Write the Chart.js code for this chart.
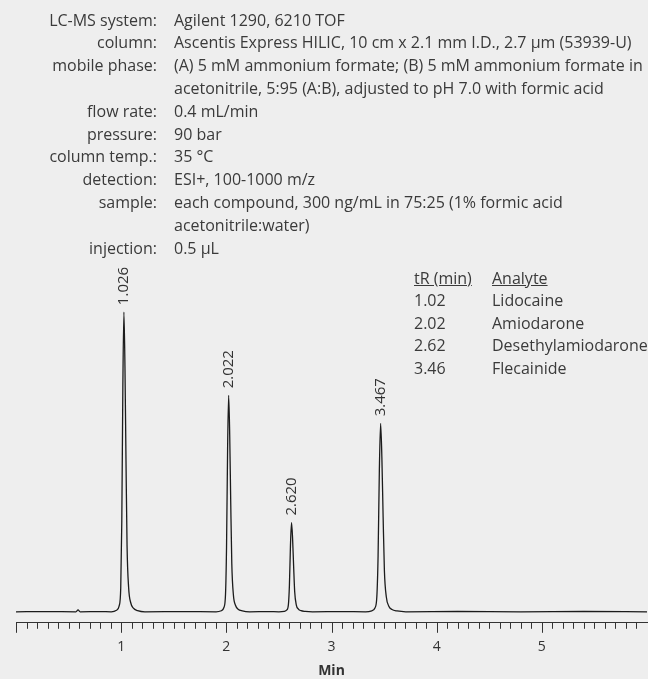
<!DOCTYPE html>
<html>
<head>
<meta charset="utf-8">
<script src="https://cdn.jsdelivr.net/npm/chart.js@4.4.1/dist/chart.umd.min.js"></script>
<style>
  body { margin: 0; background: #eeeeee; }
  #wrap { position: relative; width: 648px; height: 679px; font-family: "Open Sans", sans-serif; color: #3a3a3a; }
  #chart { position: absolute; left: 0; top: 0; }
  .line { position: absolute; white-space: nowrap; font-size: 16px; line-height: 22.8px; }
  .lbl { text-align: right; width: 157px; left: 0; }
  .val { left: 174px; }
  .u { text-decoration: underline; }
</style>
</head>
<body>
<div id="wrap">
  <canvas id="chart" width="648" height="679"></canvas>
</div>
<script>
// Method conditions printed above the chromatogram
const conditionLabels = ['LC-MS system:', 'column:', 'mobile phase:', '', 'flow rate:', 'pressure:', 'column temp.:', 'detection:', 'sample:', '', 'injection:'];
const conditionValues = [
    'Agilent 1290, 6210 TOF',
    'Ascentis Express HILIC, 10 cm x 2.1 mm I.D., 2.7 µm (53939-U)',
    '(A) 5 mM ammonium formate; (B) 5 mM ammonium formate in',
    'acetonitrile, 5:95 (A:B), adjusted to pH 7.0 with formic acid',
    '0.4 mL/min',
    '90 bar',
    '35 °C',
    'ESI+, 100-1000 m/z',
    'each compound, 300 ng/mL in 75:25 (1% formic acid',
    'acetonitrile:water)',
    '0.5 µL'
];

// Peak table
const tableRetention = ['1.02', '2.02', '2.62', '3.46'];
const tableAnalytes = ['Lidocaine', 'Amiodarone', 'Desethylamiodarone', 'Flecainide'];

// Peak apex labels
const peakTimes = [1.026, 2.022, 2.620, 3.467];
const peakHeights = [299, 216, 89, 188];
const peakLabels = ['1.026', '2.022', '2.620', '3.467'];

// Chromatogram trace (min, detector response)
const traceTime = [
    0.00, 0.30, 0.57, 0.59, 0.61, 0.80,
    0.906, 0.956, 0.981, 0.996, 1.006, 1.016, 1.026, 1.036, 1.046, 1.056, 1.071, 1.091, 1.116, 1.156, 1.226,
    1.60,
    1.902, 1.952, 1.977, 1.992, 2.002, 2.012, 2.022, 2.032, 2.042, 2.052, 2.067, 2.087, 2.112, 2.152, 2.222,
    2.40,
    2.50, 2.55, 2.575, 2.59, 2.60, 2.61, 2.62, 2.63, 2.64, 2.65, 2.665, 2.685, 2.71, 2.75, 2.82,
    3.10,
    3.323, 3.383, 3.413, 3.431, 3.443, 3.455, 3.467, 3.479, 3.491, 3.503, 3.521, 3.545, 3.575, 3.623, 3.707,
    4.20, 4.80, 5.40, 6.00
];
const traceSignal = [
    0, 0.2, 0, 1.8, 0, 0.2,
    0, 1.5, 6, 24, 90, 224, 299, 245, 150, 66, 24, 9, 3.6, 1.2, 0,
    0.2,
    0, 1, 4.3, 17, 65, 162, 216, 177, 108, 48, 17, 6.5, 2.6, 0.9, 0,
    0.2,
    0, 0.4, 1.8, 7, 27, 67, 89, 73, 45, 20, 7, 2.7, 1.1, 0.4, 0,
    0.2,
    0, 0.9, 3.8, 15, 56, 141, 188, 154, 94, 41, 15, 5.6, 2.3, 0.8, 0,
    0.3, 0, 0.3, 0
];

// HTML text blocks
const wrap = document.getElementById('wrap');
conditionLabels.forEach((label, i) => {
    const top = 8.6 + i * 22.8;
    const l = document.createElement('div');
    l.className = 'line lbl';
    l.style.top = top + 'px';
    l.textContent = label;
    wrap.appendChild(l);
    const v = document.createElement('div');
    v.className = 'line val';
    v.style.top = top + 'px';
    v.textContent = conditionValues[i];
    wrap.appendChild(v);
});

function addCell(text, left, top, underline) {
    const d = document.createElement('div');
    d.className = 'line' + (underline ? ' u' : '');
    d.style.left = left + 'px';
    d.style.top = top + 'px';
    d.textContent = text;
    wrap.appendChild(d);
}
addCell('tR (min)', 414, 266.7, true);
addCell('Analyte', 492, 266.7, true);
tableRetention.forEach((rt, i) => {
    addCell(rt, 414, 289.2 + i * 22.5, false);
    addCell(tableAnalytes[i], 492, 289.2 + i * 22.5, false);
});

// Plugin: minor/major ticks under the axis and rotated apex labels
const chromPlugin = {
    id: 'chrom',
    afterDraw(chart) {
        const ctx = chart.ctx;
        const xs = chart.scales.x;
        const ys = chart.scales.y;
        const axisY = chart.chartArea.bottom;

        ctx.save();
        ctx.strokeStyle = '#333';
        ctx.lineWidth = 1;
        xs.ticks.forEach(t => {
            if (t.value > 5.95) return;
            const major = Math.abs(t.value - Math.round(t.value)) < 1e-6;
            const x = Math.round(xs.getPixelForValue(t.value)) + 0.5;
            ctx.beginPath();
            ctx.moveTo(x, axisY);
            ctx.lineTo(x, axisY + (major ? 10 : 6));
            ctx.stroke();
        });

        ctx.fillStyle = '#333';
        ctx.font = '15px "Open Sans"';
        ctx.textAlign = 'left';
        ctx.textBaseline = 'middle';
        peakTimes.forEach((t, i) => {
            const x = xs.getPixelForValue(t);
            const y = ys.getPixelForValue(peakHeights[i]) - 7;
            ctx.save();
            ctx.translate(x, y);
            ctx.rotate(-Math.PI / 2);
            ctx.fillText(peakLabels[i], 0, 0);
            ctx.restore();
        });
        ctx.restore();
    }
};

const chart = new Chart(document.getElementById('chart').getContext('2d'), {
    type: 'line',
    data: {
        datasets: [{
            data: traceTime.map((t, i) => ({ x: t, y: traceSignal[i] })),
            borderColor: '#1b1b1b',
            borderWidth: 1.3,
            pointRadius: 0,
            fill: false,
            cubicInterpolationMode: 'monotone'
        }]
    },
    options: {
        responsive: false,
        animation: false,
        devicePixelRatio: 1,
        layout: { padding: { left: 16, right: 1, top: 250, bottom: 0 } },
        plugins: {
            legend: { display: false },
            tooltip: { enabled: false }
        },
        scales: {
            x: {
                type: 'linear',
                min: 0,
                max: 6,
                grid: { display: false, drawTicks: true, tickLength: 15.6 },
                border: { display: true, color: '#333', width: 1 },
                ticks: {
                    stepSize: 0.1,
                    autoSkip: false,
                    maxRotation: 0,
                    padding: 0,
                    color: '#333',
                    font: { family: '"Open Sans"', size: 14 },
                    callback: v => {
                        const r = Math.round(v);
                        return (Math.abs(v - r) < 1e-6 && r > 0 && r < 6) ? String(r) : '';
                    }
                },
                title: {
                    display: true,
                    text: 'Min',
                    color: '#333',
                    font: { family: '"Open Sans"', size: 14, weight: 'bold' },
                    padding: { top: 7, bottom: 0 }
                }
            },
            y: {
                display: false,
                min: -11,
                max: 361
            }
        }
    },
    plugins: [chromPlugin]
});
</script>
</body>
</html>
